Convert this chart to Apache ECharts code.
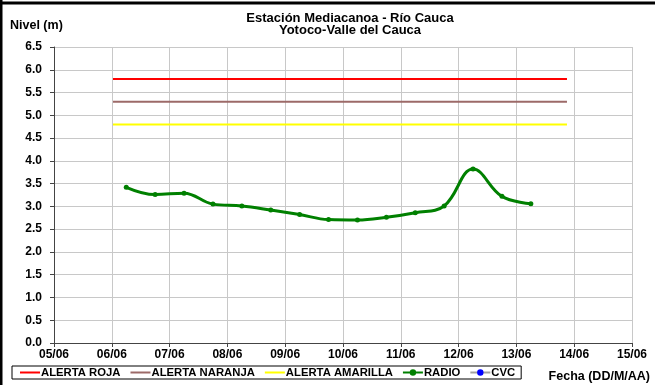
<!DOCTYPE html>
<html>
<head>
<meta charset="utf-8">
<script src="https://cdn.jsdelivr.net/npm/echarts@6/dist/echarts.min.js"></script>
<style>
html,body{margin:0;padding:0;background:#fff;}
#c{width:655px;height:385px;}
</style>
</head>
<body>
<div id="c"></div>
<script>
// ---- data ----
const titleLines = ['Estación Mediacanoa - Río Cauca', 'Yotoco-Valle del Cauca'];
const xTickDays = [5, 6, 7, 8, 9, 10, 11, 12, 13, 14, 15];          // day of June
const xTickLabels = ['05/06','06/06','07/06','08/06','09/06','10/06','11/06','12/06','13/06','14/06','15/06'];
const radioTimes = ['06/06 06:00','06/06 18:00','07/06 06:00','07/06 18:00','08/06 06:00','08/06 18:00',
                    '09/06 06:00','09/06 18:00','10/06 06:00','10/06 18:00','11/06 06:00','11/06 18:00',
                    '12/06 06:00','12/06 18:00','13/06 06:00'];
const radioValues = [3.42, 3.26, 3.29, 3.05, 3.01, 2.92, 2.82, 2.71, 2.70, 2.76, 2.86, 3.01, 3.82, 3.22, 3.06];
const cvcTimes = [];
const cvcValues = [];
const alertStart = '06/06 00:30';
const alertEnd = '13/06 21:00';
const alertRoja = 5.8;
const alertNaranja = 5.3;
const alertAmarilla = 4.8;

// parse 'DD/MM HH:MM' -> fractional day of month
function toDay(s) {
  const [d, t] = s.split(' ');
  const day = parseInt(d.split('/')[0], 10);
  const [h, m] = t.split(':').map(Number);
  return day + (h + m / 60) / 24;
}
const pair = (ts, vs) => ts.map((t, i) => [toDay(t), vs[i]]);
const flat = v => [[toDay(alertStart), v], [toDay(alertEnd), v]];

const FONT = 'Liberation Sans, Arial, sans-serif';
const NOSYM = {color: 'rgba(0,0,0,0)', borderColor: 'rgba(0,0,0,0)', borderWidth: 0};
const chart = echarts.init(document.getElementById('c'), null, {renderer: 'canvas'});
chart.setOption({
  animation: false,
  textStyle: {fontFamily: FONT},
  grid: {left: 54, right: 23, top: 47, bottom: 42},
  title: {
    text: titleLines.join('\n'),
    left: 345,
    textAlign: 'center',
    top: 7,
    textStyle: {fontSize: 13, fontWeight: 'bold', color: '#000', lineHeight: 12, fontFamily: FONT}
  },
  legend: {
    left: 12, top: 366,
    orient: 'horizontal',
    itemWidth: 20, itemHeight: 8, itemGap: 9,
    padding: [1, 6, 1, 7],
    borderColor: '#000', borderWidth: 1,
    textStyle: {fontSize: 11.3, fontWeight: 'bold', color: '#000', fontFamily: FONT, padding: [0, 0, 0, -4]},
    data: ['ALERTA ROJA', 'ALERTA NARANJA', 'ALERTA AMARILLA', 'RADIO', 'CVC']
  },
  xAxis: {
    type: 'value',
    min: xTickDays[0], max: xTickDays[xTickDays.length - 1], interval: 1,
    axisLine: {show: true, onZero: false, lineStyle: {color: '#444', width: 1}},
    axisTick: {show: true, inside: false, length: 4, lineStyle: {color: '#444'}},
    axisLabel: {
      fontSize: 12, fontWeight: 'bold', color: '#000', margin: 6,
      formatter: v => { const i = xTickDays.indexOf(Math.round(v)); return i >= 0 ? xTickLabels[i] : ''; }
    },
    splitLine: {show: true, lineStyle: {color: '#c8c8c8', width: 1}}
  },
  yAxis: {
    type: 'value',
    min: 0, max: 6.5, interval: 0.5,
    axisLine: {show: true, lineStyle: {color: '#444', width: 1}},
    axisTick: {show: true, inside: false, length: 4, lineStyle: {color: '#444'}},
    axisLabel: {fontSize: 12, fontWeight: 'bold', color: '#000', margin: 12, formatter: v => v.toFixed(1)},
    splitLine: {show: true, lineStyle: {color: '#c8c8c8', width: 1}}
  },
  graphic: [
    {type: 'line', shape: {x1: 0, y1: 3, x2: 655, y2: 3}, style: {stroke: '#000', lineWidth: 3}, z: 100},
    {type: 'line', shape: {x1: 1, y1: 0, x2: 1, y2: 385}, style: {stroke: '#000', lineWidth: 3}, z: 100},
    {type: 'text', left: 10, top: 19, style: {text: 'Nivel (m)', font: 'bold 12.5px ' + FONT, fill: '#000'}},
    {type: 'text', right: 5, top: 370, style: {text: 'Fecha (DD/M/AA)', font: 'bold 12.5px ' + FONT, fill: '#000'}}
  ],
  series: [
    {name: 'ALERTA ROJA', type: 'line', data: flat(alertRoja), showSymbol: false, symbol: 'circle', symbolSize: 0,
     lineStyle: {color: '#ff0000', width: 2}, itemStyle: NOSYM},
    {name: 'ALERTA NARANJA', type: 'line', data: flat(alertNaranja), showSymbol: false, symbol: 'circle', symbolSize: 0,
     lineStyle: {color: '#9c6a68', width: 2}, itemStyle: NOSYM},
    {name: 'ALERTA AMARILLA', type: 'line', data: flat(alertAmarilla), showSymbol: false, symbol: 'circle', symbolSize: 0,
     lineStyle: {color: '#ffff00', width: 2}, itemStyle: NOSYM},
    {name: 'RADIO', type: 'line', data: pair(radioTimes, radioValues), smooth: 0.4,
     symbol: 'circle', symbolSize: 5,
     lineStyle: {color: '#008000', width: 3}, itemStyle: {color: '#008000'}},
    {name: 'CVC', type: 'line', data: pair(cvcTimes, cvcValues),
     symbol: 'circle', symbolSize: 4,
     lineStyle: {color: '#a0a0a0', width: 1}, itemStyle: {color: '#0000ff'}}
  ]
});
</script>
</body>
</html>
